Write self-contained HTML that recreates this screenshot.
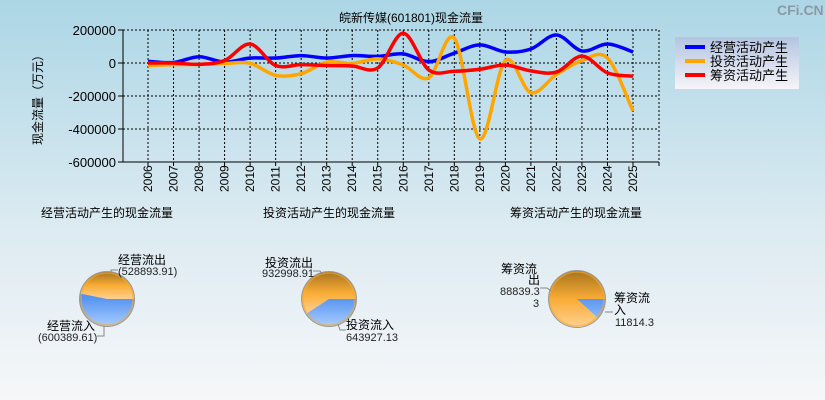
<!DOCTYPE html>
<html><head><meta charset="utf-8"><style>
body{margin:0;width:825px;height:400px;overflow:hidden}
svg{display:block;font-family:"Liberation Sans","Noto Sans CJK SC",sans-serif}
</style></head><body>
<svg id="c" width="825" height="400" xmlns="http://www.w3.org/2000/svg">
<defs>
<linearGradient id="bg" x1="0" y1="0" x2="0" y2="1"><stop offset="0" stop-color="#acd6e6"/><stop offset="0.55" stop-color="#dbeaf1"/><stop offset="1" stop-color="#f6f7f9"/></linearGradient>
<linearGradient id="lg" x1="0" y1="0" x2="0" y2="1"><stop offset="0" stop-color="#b3c4e0"/><stop offset="1" stop-color="#f6f4f8"/></linearGradient>
<linearGradient id="og" x1="0" y1="0" x2="0" y2="1"><stop offset="0" stop-color="#a8741e"/><stop offset="0.5" stop-color="#f9ac35"/><stop offset="1" stop-color="#ffd090"/></linearGradient>
<linearGradient id="bl" x1="0" y1="0" x2="0" y2="1"><stop offset="0" stop-color="#3a78e0"/><stop offset="0.5" stop-color="#5a96f0"/><stop offset="1" stop-color="#a8ccff"/></linearGradient>
</defs>
<rect width="825" height="400" fill="url(#bg)"/>
<text x="777" y="15" font-size="14" font-weight="bold" fill="#8a9aa4">CFi.CN</text>
<text x="411" y="22" font-size="12" text-anchor="middle">皖新传媒(601801)现金流量</text>
<text transform="translate(42,97) rotate(-90)" font-size="12" text-anchor="middle">现金流量（万元）</text>
<g id="grid"></g>
<g id="lines"></g>
<g>
<rect x="675" y="37" width="124" height="52" fill="url(#lg)"/>
<line x1="685" y1="47" x2="705" y2="47" stroke="#0000ff" stroke-width="4"/>
<text x="710" y="52" font-size="13">经营活动产生</text>
<line x1="685" y1="61" x2="705" y2="61" stroke="#ffa500" stroke-width="4"/>
<text x="710" y="66" font-size="13">投资活动产生</text>
<line x1="685" y1="75" x2="705" y2="75" stroke="#ff0000" stroke-width="4"/>
<text x="710" y="80" font-size="13">筹资活动产生</text>
</g>
<text x="107" y="217" font-size="12" text-anchor="middle">经营活动产生的现金流量</text>
<text x="329" y="217" font-size="12" text-anchor="middle">投资活动产生的现金流量</text>
<text x="576" y="217" font-size="12" text-anchor="middle">筹资活动产生的现金流量</text>
<g id="pies"></g>
<g font-size="12">
<text x="118" y="264">经营流出</text><text x="118" y="275" font-size="11" fill="#222">(528893.91)</text>
<polyline points="118,270 111,270 111,272" fill="none" stroke="#888"/>
<text x="47" y="330">经营流入</text><text x="38" y="341" font-size="11" fill="#222">(600389.61)</text>
<polyline points="97,336 104,336 104,326" fill="none" stroke="#888"/>
<text x="265" y="267">投资流出</text><text x="262" y="277" font-size="11" fill="#222">932998.91</text>
<polyline points="313,271 320,271 322,274" fill="none" stroke="#888"/>
<text x="346" y="329">投资流入</text><text x="346" y="341" font-size="11" fill="#222">643927.13</text>
<polyline points="346,330 340,330 338,324" fill="none" stroke="#888"/>
<text x="501" y="273">筹资流</text><text x="528" y="284">出</text><text x="500" y="295" font-size="11" fill="#222">88839.3</text><text x="533" y="307" font-size="11" fill="#222">3</text>
<polyline points="540,288 547,288 551,291" fill="none" stroke="#888"/>
<text x="614" y="302">筹资流</text><text x="614" y="314">入</text><text x="615" y="326" font-size="11" fill="#222">11814.3</text>
<polyline points="605,312 613,312" fill="none" stroke="#888"/>
</g>
</svg>
<script>
const years=[2006,2007,2008,2009,2010,2011,2012,2013,2014,2015,2016,2017,2018,2019,2020,2021,2022,2023,2024,2025];
const operating=[10000,3000,38000,5000,30000,30000,45000,30000,45000,40000,55000,8000,60000,110000,67000,85000,170000,73000,115000,67000];
const investing=[-15000,-10000,-8000,-3000,-2000,-75000,-65000,5000,-3000,25000,-12000,-90000,150000,-460000,15000,-180000,-70000,15000,30000,-290000];
const financing=[0,0,-8000,15000,115000,-15000,-10000,-15000,-18000,-30000,180000,-42000,-50000,-38000,-12000,-48000,-55000,42000,-60000,-80000];
const yTicks=[200000,0,-200000,-400000,-600000];
const pieOperating=[528893.91,600389.61];
const pieInvesting=[932998.91,643927.13];
const pieFinancing=[88839.33,11814.3];
const NS="http://www.w3.org/2000/svg";
const L=123,R=659,T=30,B=162;
function xs(i){return 148+i*(633-148)/(years.length-1);}
function ys(v){return 63-v/200000*33;}
function mk(tag,at,parent){const e=document.createElementNS(NS,tag);for(const k in at)e.setAttribute(k,at[k]);parent.appendChild(e);return e;}
const grid=document.getElementById('grid');
yTicks.forEach(v=>{const y=ys(v);
 const l=mk('line',{x1:L,x2:R,y1:y,y2:y,stroke:'#000','stroke-dasharray':'2,2'},grid);
 
 
 mk('line',{x1:L-5,x2:L,y1:y,y2:y,stroke:'#000'},grid);
 const t=mk('text',{x:L-7,y:y+5,'font-size':13,'text-anchor':'end'},grid);t.textContent=v;
 
 
});
years.forEach((yr,i)=>{const x=xs(i);
 const l=mk('line',{x1:x,x2:x,y1:T,y2:B,stroke:'#000','stroke-dasharray':'2,2'},grid);
 
 
 mk('line',{x1:x,x2:x,y1:B,y2:B+4,stroke:'#000'},grid);
 const t=mk('text',{transform:`translate(${x+4},${B+30}) rotate(-90)`,'font-size':12,'text-anchor':'start'},grid);t.textContent=yr;
 
 
});
mk('line',{x1:R,x2:R,y1:T,y2:B,stroke:'#000','stroke-dasharray':'2,2'},grid);
mk('line',{x1:R,x2:R,y1:B,y2:B+4,stroke:'#000'},grid);
mk('line',{x1:L,x2:L,y1:T,y2:B,stroke:'#000'},grid);
mk('line',{x1:L,x2:R,y1:B,y2:B,stroke:'#000'},grid);
function smooth(vals){const p=vals.map((v,i)=>[xs(i),ys(v)]);let d=`M${p[0][0]},${p[0][1]}`;
 for(let i=0;i<p.length-1;i++){const p0=p[i-1]||p[i],p1=p[i],p2=p[i+1],p3=p[i+2]||p2;
  d+=`C${p1[0]+(p2[0]-p0[0])/6},${p1[1]+(p2[1]-p0[1])/6} ${p2[0]-(p3[0]-p1[0])/6},${p2[1]-(p3[1]-p1[1])/6} ${p2[0]},${p2[1]}`;}
 return d;}
const lines=document.getElementById('lines');
[[operating,'#0000ff','operating-line'],[investing,'#ffa500','investing-line'],[financing,'#ff0000','financing-line']].forEach(([v,c,n])=>{
 const p=mk('path',{d:smooth(v),fill:'none',stroke:c,'stroke-width':3.5,'stroke-linejoin':'round'},lines);
 
 
});
const pies=document.getElementById('pies');
function pie(cx,cy,r,vals,name){const tot=vals[0]+vals[1];const a=vals[0]/tot*2*Math.PI;
 const g=mk('g',{},pies);
 
 
 mk('circle',{cx:cx,cy:cy,r:r+1,fill:'#999'},g);
 mk('circle',{cx:cx,cy:cy,r:r,fill:'url(#bl)'},g);
 const ex=cx+r*Math.cos(-a),ey=cy+r*Math.sin(-a);
 const s=mk('path',{d:`M${cx},${cy}L${cx+r},${cy}A${r},${r} 0 ${a>Math.PI?1:0} 0 ${ex},${ey}Z`,fill:'url(#og)'},g);
 
 
 mk('circle',{cx:cx,cy:cy,r:r-1,fill:'none',stroke:'#f8a830','stroke-width':1.5,opacity:0.6},g);
}
pie(107,299,27,pieOperating,'pie-operating');
pie(329,299,27,pieInvesting,'pie-investing');
pie(577,299,28,pieFinancing,'pie-financing');
</script>
</body></html>
